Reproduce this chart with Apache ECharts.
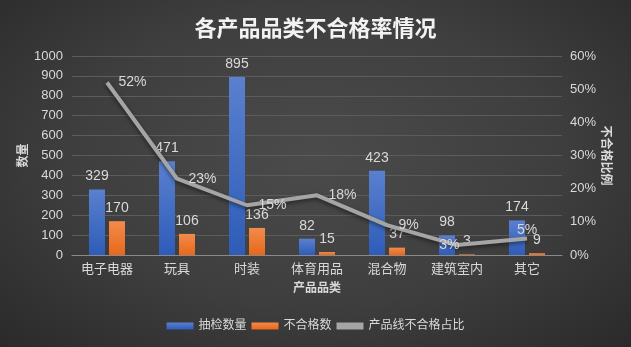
<!DOCTYPE html>
<html>
<head>
<meta charset="utf-8">
<script src="https://cdn.jsdelivr.net/npm/echarts@6/dist/echarts.min.js"></script>
<style>
html,body{margin:0;padding:0;width:631px;height:347px;overflow:hidden;}
#chart{width:631px;height:347px;background:radial-gradient(ellipse at 50% 45%, #4b4b4b 0%, #3e3e3e 55%, #2a2a2a 100%);}
</style>
</head>
<body>
<div id="chart"></div>
<script>
// 各产品品类的抽检数量、不合格数与不合格占比
const categories = ['电子电器', '玩具', '时装', '体育用品', '混合物', '建筑室内', '其它'];
const sampled = [329, 471, 895, 82, 423, 98, 174];
const failed = [170, 106, 136, 15, 37, 3, 9];
const failRate = [52, 23, 15, 18, 9, 3, 5];
// 占比标签相对折线点的位置与间距
const rateLabelPos = ['right', 'right', 'right', 'right', 'right', 'left', 'top'];
const rateLabelGap = [11, 11, 11, 11, 11, -3, 1];

const txt = '#d9d9d9';
const font = '"Liberation Sans","Noto Sans CJK SC",sans-serif';

const chart = echarts.init(document.getElementById('chart'), null, {renderer: 'canvas'});
chart.setOption({
  backgroundColor: 'transparent',
  textStyle: {fontFamily: font},
  title: {
    text: '各产品品类不合格率情况',
    left: 'center',
    top: 14,
    textStyle: {color: '#f2f2f2', fontSize: 22, fontWeight: 'bold', fontFamily: font}
  },
  legend: {
    bottom: 10,
    left: 'center',
    itemWidth: 27,
    itemHeight: 7,
    itemGap: 5,
    textStyle: {color: txt, fontSize: 12, fontFamily: font},
    data: [
      {name: '抽检数量', icon: 'rect'},
      {name: '不合格数', icon: 'rect'},
      {name: '产品线不合格占比', icon: 'rect', itemStyle: {color: '#a5a5a5', opacity: 1}}
    ]
  },
  grid: {left: 72, right: 69, top: 56, bottom: 92, containLabel: false},
  xAxis: {
    type: 'category',
    data: categories,
    name: '产品品类',
    nameLocation: 'middle',
    nameGap: 28,
    nameTextStyle: {color: txt, fontSize: 12, fontWeight: 'bold', fontFamily: font},
    axisLine: {lineStyle: {color: '#8a8a8a', width: 1}},
    axisTick: {show: false},
    axisLabel: {color: txt, fontSize: 13, margin: 8, fontFamily: font}
  },
  yAxis: [
    {
      type: 'value',
      min: 0, max: 1000, interval: 100,
      name: '数量',
      nameLocation: 'middle',
      nameGap: 42,
      nameRotate: 90,
      nameMoveOverlap: false,
      nameTextStyle: {color: txt, fontSize: 12, fontWeight: 'bold', fontFamily: font},
      axisLine: {show: false},
      axisTick: {show: false},
      axisLabel: {color: txt, fontSize: 13, margin: 9, fontFamily: font, formatter: v => String(v)},
      splitLine: {lineStyle: {color: '#5c5c5c', width: 1}}
    },
    {
      type: 'value',
      min: 0, max: 60, interval: 10,
      name: '不合格比例',
      nameLocation: 'middle',
      nameGap: 37,
      nameRotate: -90,
      nameMoveOverlap: false,
      nameTextStyle: {color: txt, fontSize: 12, fontWeight: 'bold', fontFamily: font},
      axisLine: {show: false},
      axisTick: {show: false},
      axisLabel: {color: txt, fontSize: 13, margin: 8, fontFamily: font, formatter: '{value}%'},
      splitLine: {show: false}
    }
  ],
  series: [
    {
      name: '抽检数量',
      type: 'bar',
      data: sampled,
      barWidth: 16,
      barGap: '25%',
      itemStyle: {color: new echarts.graphic.LinearGradient(0, 0, 0, 1, [
        {offset: 0, color: '#5a80cf'},
        {offset: 1, color: '#2e5cb8'}
      ])},
      label: {show: true, position: 'top', distance: 6, color: txt, fontSize: 14, fontFamily: font}
    },
    {
      name: '不合格数',
      type: 'bar',
      data: failed,
      barWidth: 16,
      itemStyle: {color: new echarts.graphic.LinearGradient(0, 0, 0, 1, [
        {offset: 0, color: '#f28b4b'},
        {offset: 1, color: '#e8681b'}
      ])},
      label: {show: true, position: 'top', distance: 6, color: txt, fontSize: 14, fontFamily: font}
    },
    {
      name: '产品线不合格占比',
      type: 'line',
      yAxisIndex: 1,
      data: failRate.map((v, i) => ({value: v, label: {position: rateLabelPos[i], distance: rateLabelGap[i]}})),
      symbol: 'circle',
      symbolSize: 1,
      showSymbol: true,
      lineStyle: {color: '#a5a5a5', width: 4, shadowColor: 'rgba(0,0,0,0.5)', shadowBlur: 4, shadowOffsetY: 2},
      itemStyle: {color: '#a5a5a5', opacity: 0},
      label: {show: true, color: txt, fontSize: 14, fontFamily: font, formatter: '{c}%', opacity: 1},
      labelLayout: {hideOverlap: false},
      z: 5
    }
  ]
});
</script>
</body>
</html>
